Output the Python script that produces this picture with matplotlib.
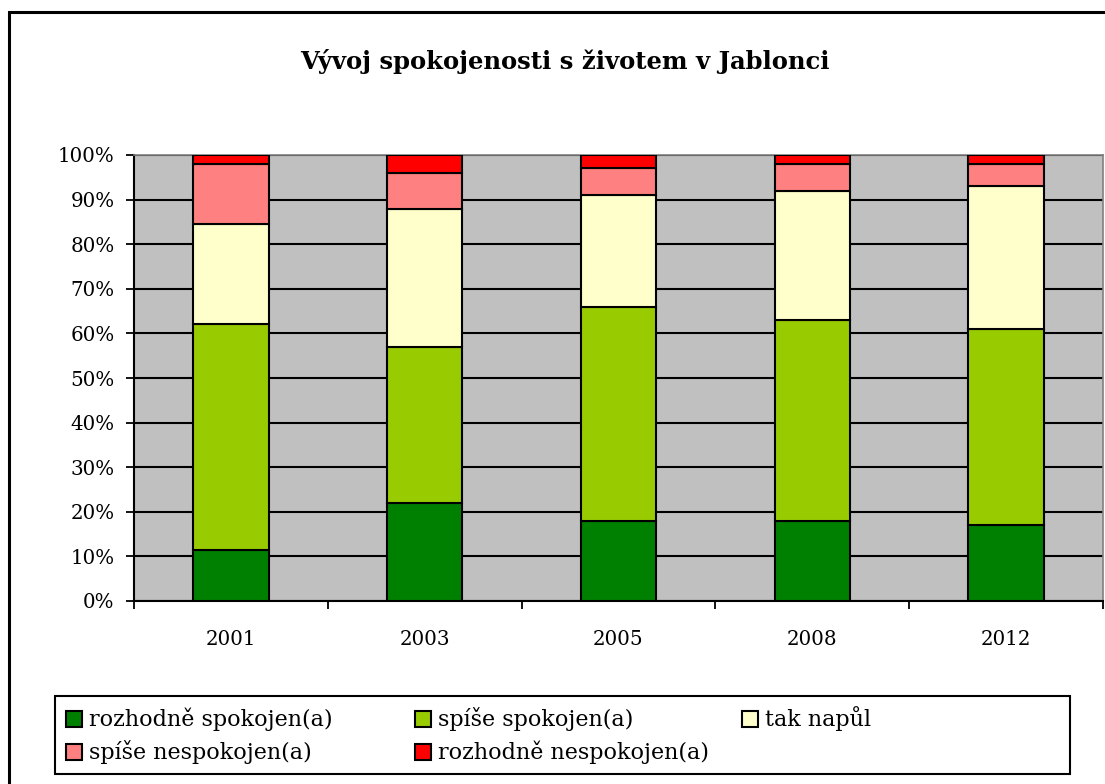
import matplotlib
matplotlib.use("Agg")
import matplotlib.pyplot as plt
from matplotlib.patches import Rectangle
import numpy as np

years = ["2001", "2003", "2005", "2008", "2012"]
series_names = ["rozhodně spokojen(a)", "spíše spokojen(a)", "tak napůl",
                "spíše nespokojen(a)", "rozhodně nespokojen(a)"]
rozhodne_spokojen = [11.5, 22, 18, 18, 17]
spise_spokojen = [50.5, 35, 48, 45, 44]
tak_napul = [22.5, 31, 25, 29, 32]
spise_nespokojen = [13.5, 8, 6, 6, 5]
rozhodne_nespokojen = [2, 4, 3, 2, 2]
colors = ["#008000", "#99CC00", "#FFFFCC", "#FF8080", "#FF0000"]
title = "Vývoj spokojenosti s životem v Jablonci"

W, H = 1105, 784
plt.rcParams['font.family'] = ['DejaVu Serif']
fig = plt.figure(figsize=(W / 100, H / 100), dpi=100)

def fx(px):
    return px / W

def fy(py):
    return 1 - py / H

ax = fig.add_axes([fx(134), fy(601), fx(1103) - fx(134), fy(155) - fy(601)])
ax.set_facecolor("#C0C0C0")

data = [rozhodne_spokojen, spise_spokojen, tak_napul, spise_nespokojen, rozhodne_nespokojen]
x = np.arange(len(years))
bottom = np.zeros(len(years))
for vals, col, name in zip(data, colors, series_names):
    ax.bar(x, vals, width=0.39, bottom=bottom, color=col, edgecolor="black",
           linewidth=1.5, label=name, zorder=3)
    bottom += np.array(vals)

ax.set_xlim(-0.5, len(years) - 0.5)
ax.set_ylim(0, 100)
ax.set_yticks(np.arange(0, 101, 10))
ax.set_yticklabels([f"{v}%" for v in range(0, 101, 10)], fontsize=14.3)
ax.yaxis.grid(True, color="black", linewidth=1.5, zorder=0)
ax.set_axisbelow(True)
ax.set_xticks(x)
ax.set_xticklabels(years, fontsize=14.3)
ax.set_xticks(np.arange(-0.5, len(years)), minor=True)
ax.tick_params(axis="x", which="major", length=0, pad=21)
ax.tick_params(axis="x", which="minor", length=6, width=1.3, direction="out")
ax.tick_params(axis="y", length=6, width=1.3, direction="out", pad=8)
for s in ["top", "right"]:
    ax.spines[s].set_color("#808080")
    ax.spines[s].set_linewidth(1.2)
for s in ["left", "bottom"]:
    ax.spines[s].set_color("black")
    ax.spines[s].set_linewidth(1.5)

fig.text(fx(565), fy(62), title, ha="center", va="center", fontsize=17.5, fontweight="bold")

# outer chart frame
fig.add_artist(Rectangle((fx(9), fy(900)), fx(1200), fy(12) - fy(900),
                         transform=fig.transFigure, fill=False, edgecolor="black",
                         linewidth=2.2))

# legend
fig.add_artist(Rectangle((fx(55), fy(774)), fx(1070) - fx(55), fy(696) - fy(774),
                         transform=fig.transFigure, fill=False, edgecolor="black",
                         linewidth=1.5))
positions = [(66, 719), (415, 719), (742, 719), (66, 752), (415, 752)]
for (px, py), name, col in zip(positions, series_names, colors):
    fig.add_artist(Rectangle((fx(px), fy(py + 8)), fx(16), fy(py - 8) - fy(py + 8),
                             transform=fig.transFigure, facecolor=col,
                             edgecolor="black", linewidth=1.5))
    fig.text(fx(px + 23), fy(py), name, ha="left", va="center", fontsize=16)

fig.savefig("out.png", dpi=100)
